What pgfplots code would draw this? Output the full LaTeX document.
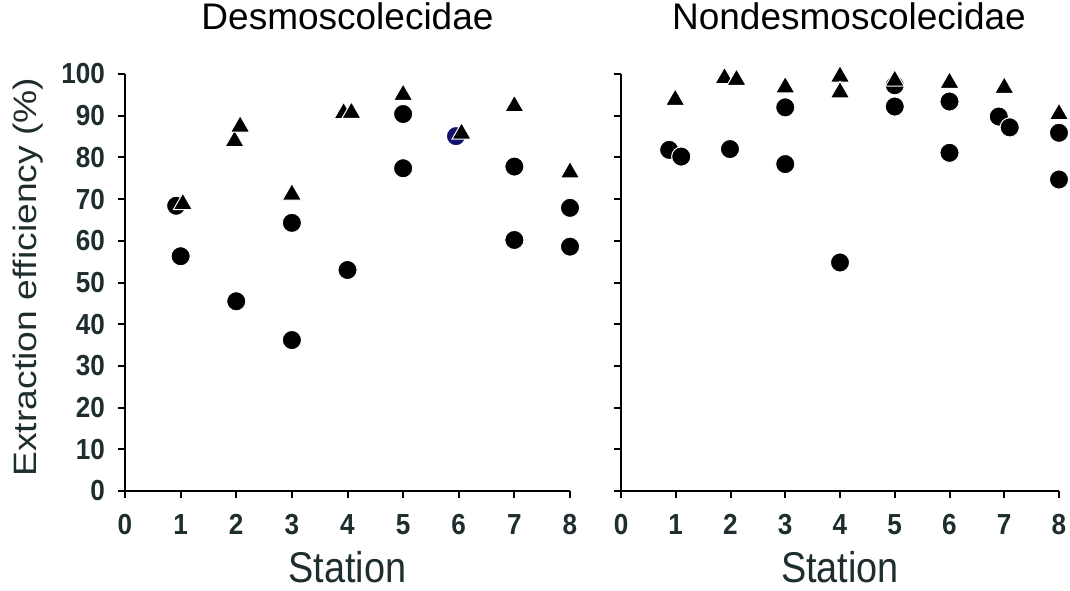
\documentclass[border=0pt]{standalone}
\usepackage{fontspec}
\setmainfont{Liberation Sans}
\newfontfamily\narrowfont[FakeStretch=0.88]{Liberation Sans}
\newfontfamily\ticksfont[FakeStretch=0.9]{Liberation Sans Bold}
\newfontfamily\tallfont[FakeStretch=1.15]{Liberation Sans}
\usepackage{pgfplots}
\pgfplotsset{compat=1.18}
\definecolor{labelgray}{HTML}{1E2D2D}
\definecolor{navyblue}{HTML}{12126E}

\pgfplotsset{
  panel/.style={
    scale only axis,
    height=208.5pt,
    xmin=0, xmax=8, ymin=0, ymax=100,
    xtick={0,1,...,8}, ytick={0,10,...,100},
    axis x line*=bottom, axis y line*=left,
    axis line style={line width=1pt, black},
    tick align=outside, major tick length=3.5pt,
    tick style={line width=1pt, black},
    clip=false,
    /pgf/number format/assume math mode=true,
    tick label style={font=\fontsize{14.5}{16}\selectfont\ticksfont, text=labelgray},
    xticklabel style={yshift=-4.5pt},
    yticklabel style={xshift=-3pt},
    xlabel={Station},
    xlabel style={at={(axis description cs:0.5,0)}, anchor=center, yshift=-38pt,
      font=\fontsize{21.5}{24}\selectfont\narrowfont, text=labelgray},
    title style={at={(axis description cs:0.5,1)}, anchor=center, yshift=23pt,
      font=\fontsize{18.5}{22}\selectfont, text=black},
  },
  dots/.style={only marks, mark=*, mark size=4.8pt,
    mark options={draw=white, fill=black, line width=0.5pt}},
  tris/.style={only marks, mark=triangle*, mark size=5.5pt,
    mark options={draw=white, fill=black, line width=0.5pt}},
}

\begin{document}
\begin{tikzpicture}
\path[use as bounding box] (-62.5pt,-49.5pt) rectangle (472.5pt,245.5pt);

% Desmoscolecidae
\begin{axis}[panel, width=222.5pt, at={(0pt,0pt)}, anchor=south west,
  title={Desmoscolecidae},
  ylabel={Extraction efficiency (\%)},
  ylabel style={at={(axis description cs:-0.218,0.513)}, anchor=center,
    font=\fontsize{16.2}{19}\selectfont\tallfont, text=labelgray},
  ]
  \addplot[dots] coordinates {
    (0.92,68.4) (1,56.3) (2,45.5) (3,64.3) (3,36.2) (4,53.0)
    (5,90.4) (5,77.4) (7,77.8) (7,60.2) (8,67.9) (8,58.6)
  };
  \addplot[only marks, mark=*, mark size=4.8pt,
    mark options={draw=white, fill=navyblue, line width=0.5pt}] coordinates {
    (5.95,85.1)
  };
  \addplot[tris] coordinates {
    (1.04,68.8) (1.97,83.9) (2.07,87.4) (3,71.1) (3.93,90.6) (4.07,90.7)
    (5,95.0) (6.05,85.7) (7,92.3) (8,76.4)
  };
\end{axis}

% Nondesmoscolecidae
\begin{axis}[panel, width=219pt, at={(248pt,0pt)}, anchor=south west,
  title={Nondesmoscolecidae},
  title style={xshift=4.5pt},
  yticklabels={},
  ]
  \addplot[dots] coordinates {
    (0.88,81.8) (1.1,80.2) (1.99,82.0) (3,92.0) (3,78.4) (4,54.8)
    (5,97.3) (5,92.2) (6,93.4) (6,81.1) (6.9,89.8) (7.1,87.2)
    (8,85.9) (8,74.7)
  };
  \addplot[tris] coordinates {
    (0.99,93.8) (1.89,99.0) (2.11,98.6) (3,96.8) (4,99.4) (4,95.6)
    (5,98.4) (6,97.9) (7,96.7) (8,90.4)
  };
\end{axis}
\end{tikzpicture}
\end{document}
